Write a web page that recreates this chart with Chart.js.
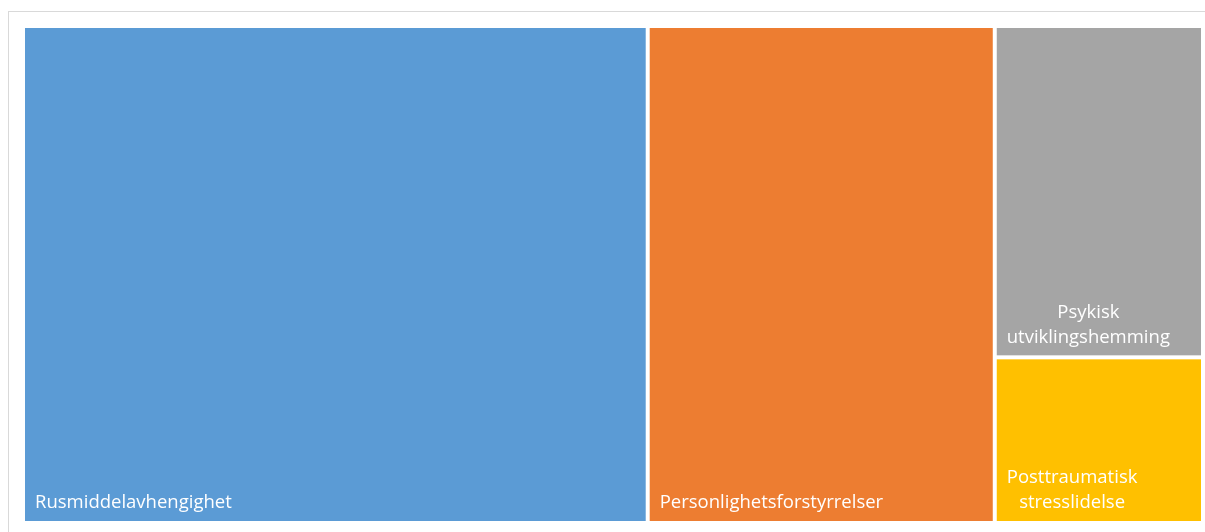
<!DOCTYPE html>
<html>
<head>
<meta charset="utf-8">
<script src="https://cdn.jsdelivr.net/npm/chart.js@4.4.1/dist/chart.umd.min.js"></script>
<style>
  html, body { margin: 0; padding: 0; background: #fff; overflow: hidden; }
  #frame {
    position: absolute; left: 8px; top: 11px; width: 1300px; height: 600px;
    border: 1px solid #d9d9d9; box-sizing: border-box;
  }
  #wrap { position: absolute; left: 0; top: 0; width: 1205px; height: 532px; }
</style>
</head>
<body>
<div id="frame"></div>
<div id="wrap"><canvas id="treeChart"></canvas></div>
<script>
const categories = ["Rusmiddelavhengighet", "Personlighetsforstyrrelser", "Psykisk utviklingshemming", "Posttraumatisk stresslidelse"];
const values = [9, 5, 2, 1];
const colors = ["#5B9BD5", "#ED7D31", "#A5A5A5", "#FFC000"];

// squarified layout in fractions of the plot area (0..1 on both axes)
function squarify(vals, aspect) {
  const total = vals.reduce((a, b) => a + b, 0);
  const out = [];
  let x = 0, y = 0, w = 1, h = 1;   // fractions
  let i = 0;
  const area = v => v / total * aspect; // area in units where height = 1, width = aspect

  function worst(row, side) {
    const s = row.reduce((a, b) => a + b, 0);
    let m = 0;
    row.forEach(r => {
      const len = r / s * side;
      const thick = s / side;
      m = Math.max(m, len / thick, thick / len);
    });
    return m;
  }

  while (i < vals.length) {
    const W = w * aspect, H = h;
    const side = Math.min(W, H);
    let row = [area(vals[i])];
    let j = i + 1;
    while (j < vals.length) {
      const next = row.concat(area(vals[j]));
      if (worst(next, side) <= worst(row, side)) { row = next; j++; } else break;
    }
    const s = row.reduce((a, b) => a + b, 0);
    const thick = s / side;
    let off = 0;
    row.forEach((r, k) => {
      const len = r / s * side;
      if (W >= H) {
        out.push({ idx: i + k, x0: x, x1: x + thick / aspect, y0: y + off, y1: y + off + len });
      } else {
        out.push({ idx: i + k, x0: x + off / aspect, x1: x + (off + len) / aspect, y0: y, y1: y + thick });
      }
      off += len;
    });
    if (W >= H) { x += thick / aspect; w -= thick / aspect; }
    else { y += thick; h -= thick; }
    i = j;
  }
  return out;
}

function wrapText(ctx, text, maxW) {
  const words = text.split(" ");
  const lines = [];
  let cur = "";
  words.forEach(wd => {
    const test = cur ? cur + " " + wd : wd;
    if (ctx.measureText(test).width > maxW && cur) { lines.push(cur); cur = wd; }
    else cur = test;
  });
  if (cur) lines.push(cur);
  return lines;
}

const treemapPlugin = {
  id: "treemap",
  afterDatasetsDraw(chart) {
    const ctx = chart.ctx;
    const xs = chart.scales.x, ys = chart.scales.y;
    const area = chart.chartArea;
    const aspect = (area.right - area.left) / (area.bottom - area.top);
    const rects = squarify(values, aspect);
    const gap = 2, pad = 10, lineH = 25;
    ctx.save();
    rects.forEach(r => {
      const left = xs.getPixelForValue(r.x0) + gap;
      const right = xs.getPixelForValue(r.x1) - gap;
      const top = ys.getPixelForValue(1 - r.y0) + gap;
      const bottom = ys.getPixelForValue(1 - r.y1) - gap;
      ctx.fillStyle = colors[r.idx];
      ctx.fillRect(left, top, right - left, bottom - top);

      ctx.font = "18.5px 'Open Sans', sans-serif";
      ctx.fillStyle = "#ffffff";
      ctx.textBaseline = "middle";
      ctx.textAlign = "center";
      const lines = wrapText(ctx, categories[r.idx], right - left - 2 * pad);
      const maxW = Math.max(...lines.map(l => ctx.measureText(l).width));
      const cx = left + pad + maxW / 2;
      lines.forEach((l, k) => {
        const cy = bottom - 18 - (lines.length - 1 - k) * lineH;
        ctx.fillText(l, cx, cy);
      });
    });
    ctx.restore();
  }
};

new Chart(document.getElementById("treeChart"), {
  type: "scatter",
  data: { datasets: [{ data: [] }] },
  options: {
    responsive: true,
    maintainAspectRatio: false,
    animation: false,
    layout: { padding: { left: 23, right: 2, top: 26, bottom: 9 } },
    scales: {
      x: { type: "linear", min: 0, max: 1, display: false },
      y: { type: "linear", min: 0, max: 1, display: false }
    },
    plugins: { legend: { display: false }, tooltip: { enabled: false } }
  },
  plugins: [treemapPlugin]
});
</script>
</body>
</html>
